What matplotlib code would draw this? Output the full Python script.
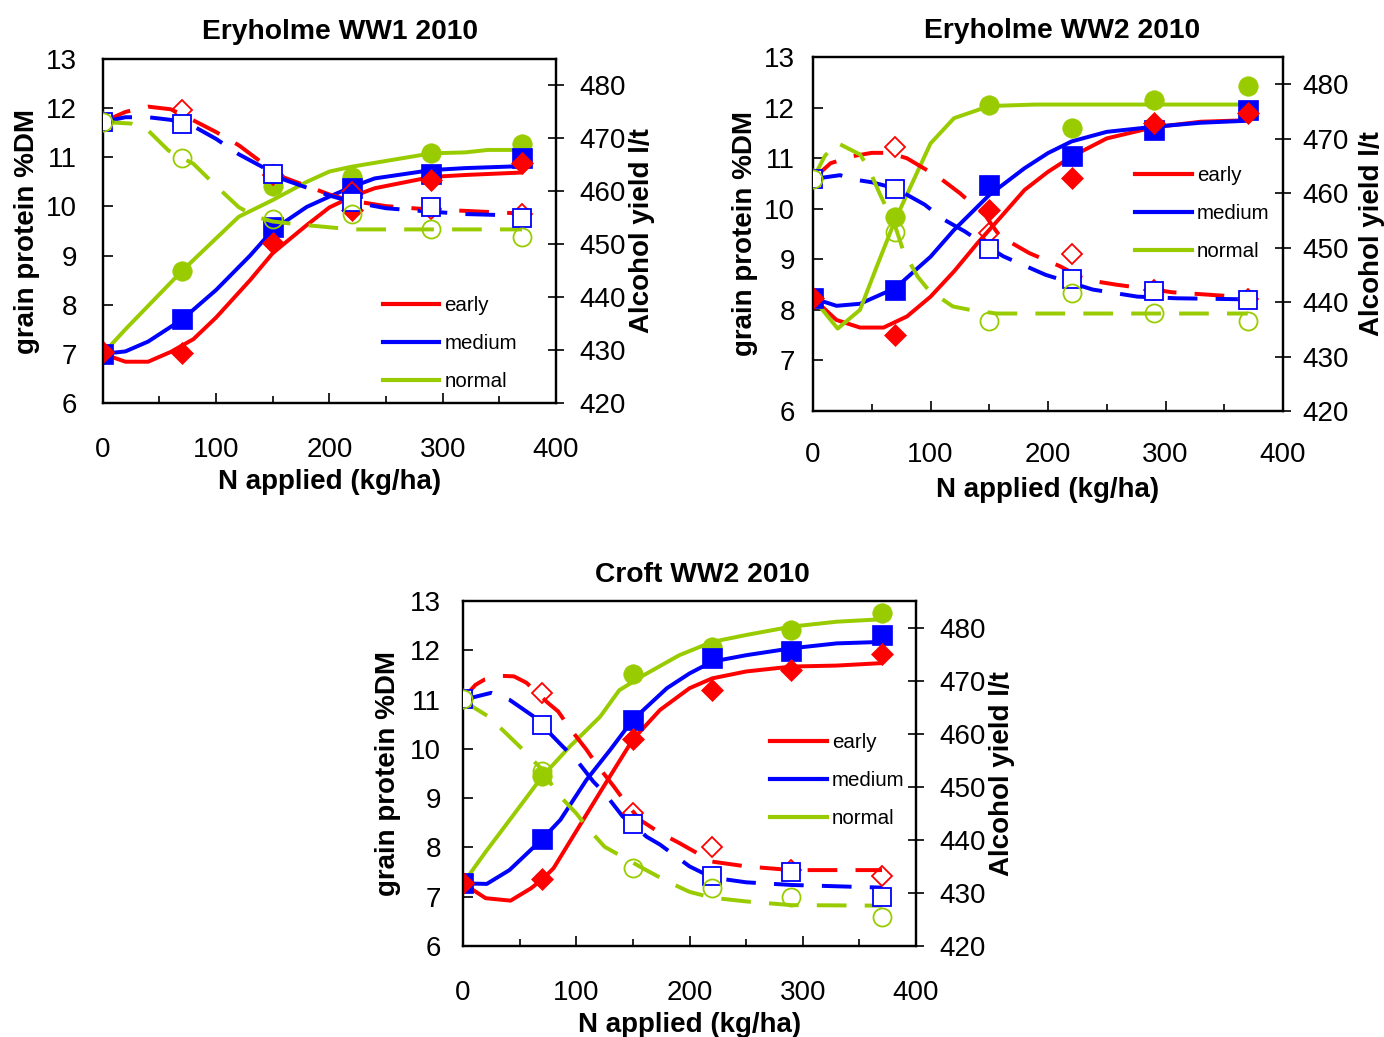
import matplotlib
matplotlib.use('Agg')
import matplotlib.pyplot as plt
from matplotlib.lines import Line2D
from matplotlib.ticker import MultipleLocator

plt.rcParams['font.family'] = ['Liberation Sans', 'DejaVu Sans']

# ---------------- data ----------------
N_applied = [0, 70, 150, 220, 290, 370]
series_names = ['early', 'medium', 'normal']
x_ticks = [0, 100, 200, 300, 400]
protein_ticks = [6, 7, 8, 9, 10, 11, 12, 13]
alcohol_ticks = [420, 430, 440, 450, 460, 470, 480]

# Panel 1: Eryholme WW1 2010 -- measured points
p1_protein_early = [7.04, 7.01, 9.25, 9.93, 10.54, 10.89]
p1_protein_medium = [7.0, 7.70, 9.59, 10.37, 10.67, 10.98]
p1_protein_normal = [7.0, 8.69, 10.41, 10.60, 11.08, 11.28]
p1_alcohol_early = [473.1, 475.4, 463.0, 459.9, 456.7, 455.8]
p1_alcohol_medium = [473.1, 472.8, 463.2, 457.9, 457.0, 455.0]
p1_alcohol_normal = [473.1, 466.3, 454.7, 455.8, 452.8, 451.3]
# Panel 1 fitted curves
p1_fitP_early_N = [0, 20, 40, 60, 80, 100, 130, 150, 180, 200, 220, 240, 290, 320, 370]
p1_fitP_early = [7.0, 6.84, 6.84, 7.04, 7.3, 7.74, 8.5, 9.05, 9.62, 9.98, 10.2, 10.37, 10.6, 10.64, 10.69]
p1_fitP_medium_N = [0, 20, 40, 70, 100, 130, 150, 180, 200, 220, 240, 290, 320, 370]
p1_fitP_medium = [7.0, 7.05, 7.25, 7.70, 8.30, 9.0, 9.52, 9.99, 10.2, 10.4, 10.57, 10.74, 10.78, 10.82]
p1_fitP_normal_N = [0, 20, 70, 120, 150, 180, 200, 220, 290, 320, 340, 370]
p1_fitP_normal = [7.0, 7.5, 8.69, 9.79, 10.13, 10.5, 10.71, 10.81, 11.08, 11.1, 11.15, 11.15]
p1_fitA_early_N = [0, 20, 40, 60, 80, 100, 120, 140, 160, 180, 200, 220, 250, 280, 320, 370]
p1_fitA_early = [473.1, 475.0, 476.0, 475.5, 473.4, 471.2, 468.7, 465.5, 462.6, 461.0, 459.4, 458.2, 457.2, 456.7, 456.3, 455.8]
p1_fitA_medium_N = [0, 20, 40, 60, 80, 100, 120, 140, 160, 180, 200, 220, 250, 280, 320, 370]
p1_fitA_medium = [473.1, 474.0, 474.0, 473.5, 472.3, 469.9, 467.0, 464.7, 462.2, 460.7, 459.2, 458.0, 456.8, 456.3, 455.7, 455.4]
p1_fitA_normal_N = [0, 25, 40, 58, 70, 80, 100, 120, 135, 150, 170, 195, 220, 370]
p1_fitA_normal = [473.1, 472.8, 471.5, 467.7, 466.3, 465.2, 461.0, 457.0, 455.2, 454.3, 453.8, 453.3, 452.8, 452.8]

# Panel 2: Eryholme WW2 2010
p2_protein_early = [8.23, 7.50, 9.97, 10.60, 11.70, 11.90]
p2_protein_medium = [8.23, 8.39, 10.47, 11.05, 11.56, 11.95]
p2_protein_normal = [8.23, 9.84, 12.05, 11.59, 12.15, 12.43]
p2_alcohol_early = [462.6, 468.5, 452.7, 448.8, 442.3, 440.6]
p2_alcohol_medium = [462.6, 460.8, 449.8, 444.2, 442.1, 440.3]
p2_alcohol_normal = [462.6, 452.8, 436.6, 441.7, 438.0, 436.6]
p2_fitP_early_N = [0, 20, 40, 60, 80, 100, 120, 140, 160, 180, 200, 220, 250, 290, 330, 370]
p2_fitP_early = [8.23, 7.80, 7.65, 7.65, 7.87, 8.26, 8.76, 9.32, 9.84, 10.37, 10.73, 11.03, 11.39, 11.61, 11.72, 11.75]
p2_fitP_medium_N = [0, 20, 40, 70, 100, 120, 150, 180, 200, 220, 250, 290, 330, 370]
p2_fitP_medium = [8.23, 8.08, 8.12, 8.43, 9.05, 9.58, 10.27, 10.80, 11.10, 11.33, 11.52, 11.62, 11.70, 11.74]
p2_fitP_normal_N = [0, 21, 40, 55, 70, 100, 120, 150, 190, 370]
p2_fitP_normal = [8.23, 7.63, 8.00, 8.90, 9.78, 11.29, 11.79, 12.03, 12.06, 12.06]
p2_fitA_early_N = [0, 15, 34, 50, 65, 80, 94, 106, 125, 147, 159, 184, 197, 210, 232, 258, 306, 354, 370]
p2_fitA_early = [462.6, 465.5, 466.8, 467.4, 467.4, 466.4, 464.6, 463.1, 460.0, 455.8, 452.1, 449.0, 447.8, 446.6, 444.1, 443.2, 441.8, 441.1, 440.3]
p2_fitA_medium_N = [0, 23, 38, 50, 70, 95, 111, 129, 150, 162, 198, 238, 276, 309, 370]
p2_fitA_medium = [462.6, 463.3, 462.4, 462.0, 460.9, 457.9, 455.2, 453.0, 450.0, 448.4, 445.0, 442.3, 441.0, 440.7, 440.5]
p2_fitA_normal_N = [0, 10, 20, 40, 47, 57, 70, 77, 89, 98, 119, 133, 156, 370]
p2_fitA_normal = [462.6, 466.8, 469.3, 467.1, 464.7, 459.8, 453.9, 449.3, 444.7, 442.3, 439.2, 438.6, 437.9, 437.9]

# Panel 3: Croft WW2 2010
p3_protein_early = [7.27, 7.35, 10.21, 11.19, 11.60, 11.92]
p3_protein_medium = [7.27, 8.18, 10.58, 11.84, 11.99, 12.31]
p3_protein_normal = [7.27, 9.44, 11.51, 12.07, 12.41, 12.75]
p3_alcohol_early = [466.6, 467.7, 445.1, 438.7, 434.3, 433.1]
p3_alcohol_medium = [466.6, 461.7, 443.0, 433.1, 434.0, 429.3]
p3_alcohol_normal = [466.6, 453.0, 434.7, 430.9, 429.3, 425.5]
p3_fitP_early_N = [0, 20, 42, 60, 70, 80, 100, 124, 150, 174, 200, 220, 250, 290, 330, 370]
p3_fitP_early = [7.27, 6.97, 6.92, 7.17, 7.35, 7.58, 8.33, 9.23, 10.19, 10.79, 11.23, 11.43, 11.57, 11.67, 11.69, 11.74]
p3_fitP_medium_N = [0, 21, 41, 70, 86, 109, 130, 150, 180, 200, 220, 250, 290, 330, 370]
p3_fitP_medium = [7.27, 7.26, 7.54, 8.17, 8.56, 9.37, 9.98, 10.59, 11.23, 11.53, 11.77, 11.90, 12.04, 12.14, 12.17]
p3_fitP_normal_N = [0, 20, 40, 70, 94, 121, 138, 160, 191, 220, 250, 290, 330, 370]
p3_fitP_normal = [7.27, 7.91, 8.52, 9.44, 10.04, 10.65, 11.19, 11.50, 11.90, 12.17, 12.31, 12.48, 12.58, 12.63]
p3_fitA_early_N = [0, 11, 19, 34, 45, 56, 75, 84, 94, 109, 118, 133, 143, 156, 174, 191, 220, 250, 290, 370]
p3_fitA_early = [466.6, 469.2, 470.2, 470.9, 470.8, 469.6, 465.8, 464.2, 461.1, 457.0, 454.2, 450.1, 447.2, 443.8, 441.3, 439.4, 435.9, 435.0, 434.3, 434.3]
p3_fitA_medium_N = [0, 6, 25, 41, 62, 70, 78, 88, 100, 115, 125, 141, 150, 162, 174, 200, 220, 250, 290, 370]
p3_fitA_medium = [466.6, 466.7, 467.7, 466.4, 463.3, 461.9, 459.8, 457.6, 455.1, 451.0, 448.8, 444.4, 443.0, 440.6, 439.1, 435.0, 432.9, 432.0, 431.5, 431.0]
p3_fitA_normal_N = [0, 3, 22, 33, 50, 70, 83, 100, 109, 125, 140, 160, 180, 200, 220, 250, 290, 370]
p3_fitA_normal = [466.6, 465.8, 463.3, 461.1, 457.6, 453.2, 448.8, 445.0, 442.5, 438.7, 436.9, 434.5, 432.2, 430.2, 429.1, 428.4, 427.7, 427.6]

titles = ['Eryholme WW1 2010', 'Eryholme WW2 2010', 'Croft WW2 2010']
x_label = 'N applied (kg/ha)'
y_label_left = 'grain protein %DM'
y_label_right = 'Alcohol yield l/t'

# ---------------- style ----------------
W, H = 1384, 1037
colors = {'early': '#FF0000', 'medium': '#0000FF', 'normal': '#99CC00'}
filled_marker = {'early': ('D', 11), 'medium': ('s', 14), 'normal': ('o', 14)}
hollow_marker = {'early': ('D', 10), 'medium': ('s', 13), 'normal': ('o', 13)}
LW = 2.85
DASH = (7.5, 4.6)

fig = plt.figure(figsize=(W / 100, H / 100), dpi=100)


def px_rect(l, t, r, b):
    return [l / W, 1 - b / H, (r - l) / W, (b - t) / H]


def draw_panel(rect, title, title_xy, prot, alc, fitP, fitA, layout):
    ax = fig.add_axes(px_rect(*rect))
    ax2 = ax.twinx()
    # fitted curves
    for name in series_names:
        ax.plot(fitP[name][0], fitP[name][1], color=colors[name], lw=LW,
                solid_capstyle='butt', zorder=2)
        ax2.plot(fitA[name][0], fitA[name][1], color=colors[name], lw=LW,
                 dashes=DASH, dash_capstyle='butt', zorder=2)
    # filled protein markers (normal drawn first, early on top)
    for name in ['normal', 'medium', 'early']:
        m, s = filled_marker[name]
        ax.plot(N_applied, prot[name], ls='none', marker=m, ms=s,
                mfc=colors[name], mec=colors[name], mew=0.5, zorder=3)
    # hollow alcohol markers
    for name in ['early', 'medium', 'normal']:
        m, s = hollow_marker[name]
        fc = 'white' if name == 'medium' else 'none'
        ax2.plot(N_applied, alc[name], ls='none', marker=m, ms=s,
                 mfc=fc, mec=colors[name], mew=1.3, zorder=4)

    ax.set_xlim(0, 400)
    ax.set_ylim(6, 13)
    ax2.set_ylim(420, 485)
    ax.set_xticks(x_ticks)
    ax.xaxis.set_minor_locator(MultipleLocator(50))
    ax.set_yticks(protein_ticks)
    ax2.set_yticks(alcohol_ticks)

    ax.tick_params(axis='x', which='major', direction='in', length=7, width=1.2,
                   labelsize=20, pad=layout['xpad'], top=False)
    ax.tick_params(axis='x', which='minor', direction='in', length=5, width=1.2, top=False)
    ax.tick_params(axis='y', which='major', direction='in', length=7, width=1.2,
                   labelsize=20, pad=layout['ypad'], right=False)
    ax2.tick_params(axis='y', which='major', direction='inout', length=12, width=1.2,
                    labelsize=20, pad=layout['y2pad'])
    for a in (ax, ax2):
        for sp in a.spines.values():
            sp.set_linewidth(1.6)
            sp.set_color('black')

    ax.set_xlabel(x_label, fontsize=20, fontweight='bold')
    ax.xaxis.label.set_va('top')
    ax.xaxis.set_label_coords(0.5, layout['xlab'])
    ax.set_ylabel(y_label_left, fontsize=20, fontweight='bold')
    ax.yaxis.label.set_va('center')
    ax.yaxis.set_label_coords(layout['ylab'], 0.5)
    ax2.set_ylabel(y_label_right, fontsize=20, fontweight='bold', rotation=90)
    ax2.yaxis.label.set_va('center')
    ax2.yaxis.set_label_coords(layout['y2lab'], 0.5)

    fig.text(title_xy[0] / W, 1 - title_xy[1] / H, title, ha='center', va='baseline',
             fontsize=20.3, fontweight='bold')

    handles = [Line2D([], [], color=colors[n], lw=3) for n in series_names]
    ax2.legend(handles, series_names, loc='upper left', frameon=False,
               bbox_to_anchor=(layout['leg'][0] / W, 1 - layout['leg'][1] / H),
               bbox_transform=fig.transFigure, fontsize=14.8, handlelength=2.75,
               handletextpad=0.25, labelspacing=0.92, borderpad=0, borderaxespad=0)
    return ax, ax2


panels = [
    dict(rect=(102.8, 59, 556, 403), title_xy=(340, 39),
         prot={'early': p1_protein_early, 'medium': p1_protein_medium, 'normal': p1_protein_normal},
         alc={'early': p1_alcohol_early, 'medium': p1_alcohol_medium, 'normal': p1_alcohol_normal},
         fitP={'early': (p1_fitP_early_N, p1_fitP_early), 'medium': (p1_fitP_medium_N, p1_fitP_medium),
               'normal': (p1_fitP_normal_N, p1_fitP_normal)},
         fitA={'early': (p1_fitA_early_N, p1_fitA_early), 'medium': (p1_fitA_medium_N, p1_fitA_medium),
               'normal': (p1_fitA_normal_N, p1_fitA_normal)},
         layout=dict(xpad=24.5, ypad=18.5, y2pad=11, xlab=-0.192, ylab=-0.167, y2lab=1.19,
                     leg=(382.7, 296))),
    dict(rect=(813, 57, 1283, 411), title_xy=(1062, 38),
         prot={'early': p2_protein_early, 'medium': p2_protein_medium, 'normal': p2_protein_normal},
         alc={'early': p2_alcohol_early, 'medium': p2_alcohol_medium, 'normal': p2_alcohol_normal},
         fitP={'early': (p2_fitP_early_N, p2_fitP_early), 'medium': (p2_fitP_medium_N, p2_fitP_medium),
               'normal': (p2_fitP_normal_N, p2_fitP_normal)},
         fitA={'early': (p2_fitA_early_N, p2_fitA_early), 'medium': (p2_fitA_medium_N, p2_fitA_medium),
               'normal': (p2_fitA_normal_N, p2_fitA_normal)},
         layout=dict(xpad=22, ypad=13, y2pad=8, xlab=-0.186, ylab=-0.145, y2lab=1.189,
                     leg=(1135, 166))),
    dict(rect=(463, 601, 916, 946), title_xy=(702, 582),
         prot={'early': p3_protein_early, 'medium': p3_protein_medium, 'normal': p3_protein_normal},
         alc={'early': p3_alcohol_early, 'medium': p3_alcohol_medium, 'normal': p3_alcohol_normal},
         fitP={'early': (p3_fitP_early_N, p3_fitP_early), 'medium': (p3_fitP_medium_N, p3_fitP_medium),
               'normal': (p3_fitP_normal_N, p3_fitP_normal)},
         fitA={'early': (p3_fitA_early_N, p3_fitA_early), 'medium': (p3_fitA_medium_N, p3_fitA_medium),
               'normal': (p3_fitA_normal_N, p3_fitA_normal)},
         layout=dict(xpad=24.5, ypad=16, y2pad=11, xlab=-0.19, ylab=-0.166, y2lab=1.19,
                     leg=(770, 733))),
]

for i, p in enumerate(panels):
    draw_panel(p['rect'], titles[i], p['title_xy'], p['prot'], p['alc'], p['fitP'], p['fitA'],
               p['layout'])

fig.savefig('out.png', dpi=100)
